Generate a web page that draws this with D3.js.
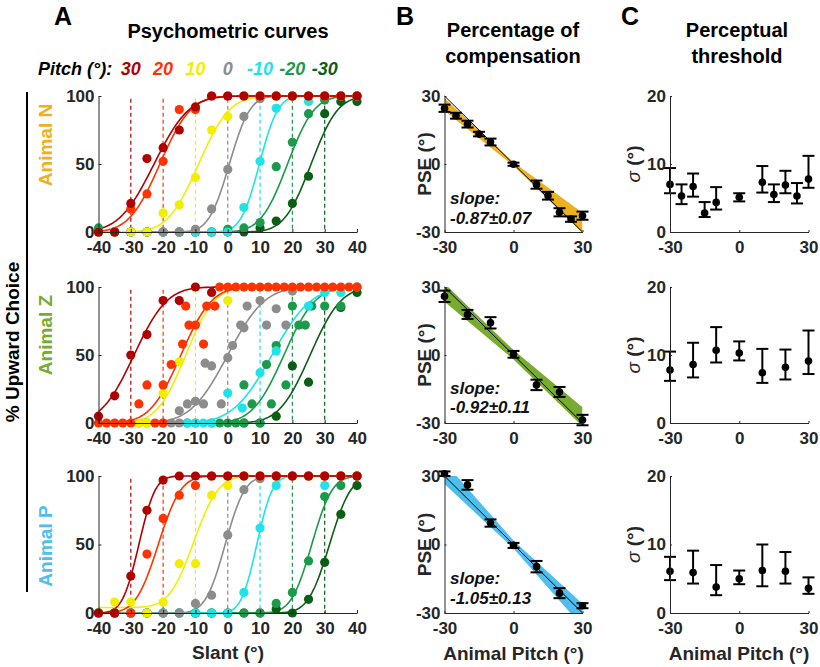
<!DOCTYPE html>
<html>
<head>
<meta charset="utf-8">
<script src="https://cdn.jsdelivr.net/npm/d3@7"></script>
<style>
body { margin: 0; background: #fff; }
svg text { font-family: "Liberation Sans", Arial, sans-serif; font-weight: bold; }
</style>
</head>
<body>
<svg id="fig" width="820" height="667"></svg>
<script>
// ---------- data ----------
var pitches = [30, 20, 10, 0, -10, -20, -30];
var pitchColors = ["#b00000", "#ff3300", "#f2ee00", "#8c8c8c", "#1ee3e8", "#1a9a4a", "#0b5e16"];
var animals = ["Animal N", "Animal Z", "Animal P"];
var animalColors = ["#edb120", "#77ac30", "#4dbeee"];
var slantTicks = [-40, -30, -20, -10, 0, 10, 20, 30, 40];
var pctTicks = [0, 50, 100];
var pitchTicks = [-30, 0, 30];
var sigmaTicks = [0, 10, 20];

// slants used for animals N and P (one % value per slant)
var slantGrid = [-40, -35, -30, -25, -20, -15, -10, -5, 0, 5, 10, 15, 20, 25, 30, 35, 40];

// animal N, % upward choice, rows follow pitches
var pctN = [
  [0, 0, 21, 54, 62, 75, 92, 100, 100, 100, 100, 100, 100, 100, 100, 100, 100],
  [0, 0, 17, 28, 52, 90, 90, 100, 100, 100, 100, 100, 100, 100, 100, 100, 100],
  [0, 0, 0, 0, 14, 20, 40, 75, 85, 100, 100, 100, 100, 100, 100, 100, 100],
  [0, 0, 0, 0, 0, 0, 2, 17, 46, 85, 98, 100, 100, 100, 100, 100, 100],
  [0, 0, 0, 0, 0, 0, 0, 0, 0, 18, 52, 91, 100, 96, 100, 100, 100],
  [3, 0, 0, 0, 0, 0, 0, 0, 2, 3, 7, 48, 66, 87, 97, 100, 100],
  [0, 0, 0, 0, 0, 0, 0, 0, 0, 0, 3, 8, 21, 41, 87, 96, 96]
];
// animal P
var pctP = [
  [0, 0, 27, 75, 97, 100, 100, 100, 100, 100, 100, 100, 100, 100, 100, 100, 100],
  [0, 0, 0, 43, 69, 86, 93, 100, 100, 100, 100, 100, 100, 100, 100, 100, 100],
  [0, 8, 8, 0, 8, 36, 36, 86, 93, 100, 100, 100, 100, 100, 100, 100, 100],
  [0, 0, 0, 0, 0, 0, 7, 13, 57, 90, 98, 100, 100, 100, 100, 100, 100],
  [0, 0, 0, 0, 0, 0, 0, 0, 0, 15, 62, 93, 100, 100, 93, 100, 100],
  [0, 0, 0, 0, 0, 0, 0, 0, 0, 0, 0, 7, 15, 38, 85, 93, 100],
  [0, 0, 0, 0, 0, 0, 0, 0, 0, 0, 0, 3, 0, 10, 37, 72, 93]
];
// animal Z was tested on irregular slants: [slant, %] pairs
var ptsZ30 = [[-40, 5], [-35, 20], [-30, 50], [-25, 65], [-20, 90], [-15, 90], [-10, 100], [-5, 96]];
var ptsZ20 = [[-40, 0], [-37.5, 0], [-35, 0], [-32.5, 0], [-30, 0], [-27.5, 14], [-25, 28], [-22.5, 0], [-20, 0],
  [-20, 28], [-17.5, 43], [-14, 58], [-13, 86], [-12, 72], [-10, 72], [-7.5, 58], [-6.5, 86], [-4, 86],
  [-2.5, 100], [0, 100], [2.5, 100], [5, 100], [7.5, 100], [10, 100], [12.5, 100], [15, 100], [17.5, 100],
  [20, 100], [22.5, 100], [25, 100], [27.5, 100], [30, 100], [32.5, 100], [35, 100], [37.5, 100], [40, 100]];
var ptsZ10 = [[-27.5, 0], [-25, 0], [-20, 22], [-15, 45], [0, 90]];
var ptsZ0 = [[-27.5, 0], [-25, 0], [-20, 0], [-17.5, 0], [-15, 0], [-15, 9], [-12.5, 14], [-10, 16], [-7.5, 14],
  [-7, 44], [-5, 42], [-2, 14], [0, 48], [1.5, 57], [4, 72], [5, 70], [6, 86], [10, 90], [12, 72], [15, 84],
  [18, 72], [20, 97]];
var ptsZm10 = [[-12.5, 0], [-10, 0], [-7.5, 0], [-5, 0], [0, 22], [4.5, 11], [10, 37], [15, 53], [25, 86],
  [30, 96], [35, 96], [40, 100]];
var ptsZm20 = [[-12.5, 0], [-10, 0], [-5, 0], [-2.5, 0], [0, 0], [2.5, 0], [5, 0], [5, 28], [7.5, 14], [10, 0],
  [12, 43], [13.5, 14], [15, 57], [18, 28], [20, 86], [22, 72], [24, 72], [26, 86], [30, 86], [35, 86], [40, 100]];
var ptsZm30 = [[5, 0], [10, 0], [15, 5], [20, 42], [25, 30], [35, 85], [40, 96]];

// cumulative gaussian fits (mean, sigma, floor) per pitch
var muN = [-22.8, -21, -9, 0.5, 9.8, 18.5, 25.8];
var sdN = [8.5, 7.5, 7.5, 5, 4.5, 6.5, 6.5];
var muZ = [-29, -14.5, -13, 0, 13.7, 17.4, 25.5];
var sdZ = [8, 7.5, 7, 9, 9.5, 7.6, 7.5];
var muP = [-27.5, -21.5, -10.5, -0.8, 9, 26, 31.5];
var sdP = [4, 5.5, 6, 4.8, 3.8, 5, 5.2];
var floorP = [0, 0, 4, 0, 0, 0, 0];

// panel B: PSE vs animal pitch
var pitchN = [-30, -25, -20, -15, -10, 0, 10, 15, 20, 25, 30];
var pseN = [24.6, 21.3, 17.6, 13.2, 9.7, -0.1, -9.1, -14, -21.3, -24.3, -22.8];
var pseErrN = [1.6, 1.3, 1.5, 1, 1.5, 0.7, 1.8, 1.7, 1.8, 1.2, 1.8];
var pitchZP = [-30, -20, -10, 0, 10, 20, 30];
var pseZ = [25.9, 17.9, 14.2, 0.3, -13.2, -16.3, -28.7];
var pseErrZ = [2.5, 2, 2.5, 1.5, 2.3, 2.2, 2.3];
var pseP = [31, 26.1, 9.4, -0.4, -9.7, -21.3, -26.8];
var pseErrP = [1, 2.1, 1.6, 1.1, 2.5, 2.2, 1.1];
var bandX = [-30, 0, 30];
var bandLoN = [23.5, -0.8, -30.5], bandHiN = [29, 0.8, -21.5];
var bandLoZ = [23.5, -2, -31.5], bandHiZ = [31.5, 2.2, -23];
var bandLoP = [26.5, -1.8, -36], bandHiP = [36, 1.8, -26];
var slopeText = ["-0.87\u00b10.07", "-0.92\u00b10.11", "-1.05\u00b10.13"];

// panel C: threshold sigma with asymmetric error bars
var sigN = [7.0, 5.3, 6.7, 2.8, 4.35, 5.1, 7.3, 5.5, 6.9, 5.3, 7.8];
var sigLoN = [5.7, 4.1, 5.2, 2.2, 3.3, 4.5, 5.8, 4.4, 5.7, 4.2, 6.5];
var sigHiN = [9.4, 7.0, 8.6, 4.4, 6.6, 5.7, 9.7, 7.0, 9.0, 7.2, 11.2];
var sigZ = [7.8, 8.6, 10.7, 10.3, 7.4, 8.2, 9.1];
var sigLoZ = [6.2, 6.7, 8.9, 9.2, 5.9, 6.4, 7.2];
var sigHiZ = [10.5, 11.8, 14.1, 12.0, 10.9, 10.8, 13.6];
var sigP = [6.1, 5.9, 3.8, 5.0, 6.2, 6.1, 3.6];
var sigLoP = [4.8, 4.3, 2.6, 4.2, 3.9, 4.3, 2.8];
var sigHiP = [8.2, 9.1, 7.0, 6.2, 10.0, 8.9, 5.2];

// ---------- layout ----------
var axisColor = "#262626";
var rowTop = [96, 287, 476], rowBot = [232, 423, 613];
var xA = d3.scaleLinear().domain([-40, 40]).range([98.5, 357]);
var xB = d3.scaleLinear().domain([-30, 30]).range([444.5, 582.5]);
var xC = d3.scaleLinear().domain([-30, 30]).range([670, 808.5]);

var svg = d3.select("#fig");

function erf(x) {
  var s = x < 0 ? -1 : 1;
  x = Math.abs(x);
  var t = 1 / (1 + 0.3275911 * x);
  var y = 1 - (((((1.061405429 * t - 1.453152027) * t) + 1.421413741) * t - 0.284496736) * t + 0.254829592) * t * Math.exp(-x * x);
  return s * y;
}
function cumGauss(x, mu, sd, fl) {
  var p = 0.5 * (1 + erf((x - mu) / (sd * Math.SQRT2)));
  return fl + (100 - fl) * p;
}

// matlab style: plain hyphen for negatives
function tickFmt(v) { return String(v); }

function drawAxes(x, y, xt, yt, tick) {
  var gx = svg.append("g")
    .attr("transform", "translate(0," + y.range()[0] + ")")
    .call(d3.axisBottom(x).tickValues(xt).tickFormat(tickFmt).tickSizeInner(-tick).tickSizeOuter(0).tickPadding(9));
  var gy = svg.append("g")
    .attr("transform", "translate(" + x.range()[0] + ",0)")
    .call(d3.axisLeft(y).tickValues(yt).tickFormat(tickFmt).tickSizeInner(-tick).tickSizeOuter(0).tickPadding(4));
  [gx, gy].forEach(function(g) {
    g.attr("font-family", null).attr("font-size", null);
    g.selectAll("path, line").attr("stroke", axisColor).attr("stroke-width", 1);
    g.selectAll("text").attr("fill", axisColor).style("font-size", "17px");
  });
}

function addText(x, y, str, size, opts) {
  opts = opts || {};
  var t = svg.append("text")
    .attr("x", x).attr("y", y)
    .attr("text-anchor", opts.anchor || "middle")
    .attr("fill", opts.color || "#111")
    .style("font-size", size + "px")
    .text(str);
  if (opts.italic) t.style("font-style", "italic");
  if (opts.rotate) t.attr("transform", "rotate(-90," + x + "," + y + ")").attr("dy", "0.35em");
  return t;
}

function drawErrorBars(g, pts, x, y) {
  var cap = 6;
  pts.forEach(function(p) {
    g.append("line").attr("x1", x(p.x)).attr("x2", x(p.x)).attr("y1", y(p.lo)).attr("y2", y(p.hi))
      .attr("stroke", "#000").attr("stroke-width", 2);
    [p.lo, p.hi].forEach(function(v) {
      g.append("line").attr("x1", x(p.x) - cap).attr("x2", x(p.x) + cap).attr("y1", y(v)).attr("y2", y(v))
        .attr("stroke", "#000").attr("stroke-width", 2);
    });
    g.append("circle").attr("cx", x(p.x)).attr("cy", y(p.y)).attr("r", 3.8).attr("fill", "#000");
  });
}

// ---------- panel A ----------
var pointSets = [
  pitches.map(function(p, i) { return slantGrid.map(function(s, j) { return [s, pctN[i][j]]; }); }),
  [ptsZ30, ptsZ20, ptsZ10, ptsZ0, ptsZm10, ptsZm20, ptsZm30],
  pitches.map(function(p, i) { return slantGrid.map(function(s, j) { return [s, pctP[i][j]]; }); })
];
var fits = [
  {mu: muN, sd: sdN, fl: [0, 0, 0, 0, 0, 0, 0]},
  {mu: muZ, sd: sdZ, fl: [0, 0, 0, 0, 0, 0, 0]},
  {mu: muP, sd: sdP, fl: floorP}
];
var curveX = d3.range(-40, 40.001, 0.5);

for (var r = 0; r < 3; r++) {
  var yA = d3.scaleLinear().domain([0, 100]).range([rowBot[r], rowTop[r]]);
  var g = svg.append("g");
  // dashed reference lines at slant = -pitch
  g.selectAll("line.ref").data(pitches).enter().append("line")
    .attr("x1", function(p) { return xA(-p); }).attr("x2", function(p) { return xA(-p); })
    .attr("y1", yA(98)).attr("y2", yA(0))
    .attr("stroke", function(p, i) { return pitchColors[i]; })
    .attr("stroke-width", 1.2).attr("stroke-dasharray", "4,3");
  var line = d3.line().x(function(d) { return xA(d[0]); }).y(function(d) { return yA(d[1]); });
  var order = d3.range(pitches.length).reverse();
  order.forEach(function(i) {
    var f = fits[r];
    g.append("path")
      .attr("d", line(curveX.map(function(s) { return [s, cumGauss(s, f.mu[i], f.sd[i], f.fl[i])]; })))
      .attr("fill", "none").attr("stroke", pitchColors[i]).attr("stroke-width", 1.6);
  });
  order.forEach(function(i) {
    g.selectAll(null).data(pointSets[r][i]).enter().append("circle")
      .attr("cx", function(d) { return xA(d[0]); })
      .attr("cy", function(d) { return yA(d[1]); })
      .attr("r", 4.6)
      .attr("fill", pitchColors[i]);
  });
  drawAxes(xA, yA, slantTicks, pctTicks, 3);
}

// ---------- panel B ----------
var pseSets = [
  {x: pitchN, y: pseN, e: pseErrN, lo: bandLoN, hi: bandHiN},
  {x: pitchZP, y: pseZ, e: pseErrZ, lo: bandLoZ, hi: bandHiZ},
  {x: pitchZP, y: pseP, e: pseErrP, lo: bandLoP, hi: bandHiP}
];
for (var r = 0; r < 3; r++) {
  var yB = d3.scaleLinear().domain([-30, 30]).range([rowBot[r], rowTop[r]]);
  var d = pseSets[r];
  svg.append("clipPath").attr("id", "clipB" + r).append("rect")
    .attr("x", xB.range()[0]).attr("y", rowTop[r])
    .attr("width", xB.range()[1] - xB.range()[0]).attr("height", rowBot[r] - rowTop[r]);
  var gb = svg.append("g");
  var area = d3.area()
    .x(function(v, i) { return xB(bandX[i]); })
    .y0(function(v, i) { return yB(d.lo[i]); })
    .y1(function(v, i) { return yB(d.hi[i]); });
  gb.append("path").attr("d", area(bandX))
    .attr("fill", animalColors[r]).attr("clip-path", "url(#clipB" + r + ")");
  gb.append("line")
    .attr("x1", xB(-30)).attr("y1", yB(30)).attr("x2", xB(30)).attr("y2", yB(-30))
    .attr("stroke", "#000").attr("stroke-width", 1);
  var pts = d.x.map(function(v, i) { return {x: v, y: d.y[i], lo: d.y[i] - d.e[i], hi: d.y[i] + d.e[i]}; });
  drawErrorBars(gb, pts, xB, yB);
  drawAxes(xB, yB, pitchTicks, pitchTicks, 2);
  addText(450, [204, 394, 584][r], "slope:", 17, {anchor: "start", italic: true});
  addText(450, [224, 413, 604][r], slopeText[r], 17, {anchor: "start", italic: true});
}

// ---------- panel C ----------
var sigSets = [
  {x: pitchN, y: sigN, lo: sigLoN, hi: sigHiN},
  {x: pitchZP, y: sigZ, lo: sigLoZ, hi: sigHiZ},
  {x: pitchZP, y: sigP, lo: sigLoP, hi: sigHiP}
];
for (var r = 0; r < 3; r++) {
  var yC = d3.scaleLinear().domain([0, 20]).range([rowBot[r], rowTop[r]]);
  var s = sigSets[r];
  var gc = svg.append("g");
  drawAxes(xC, yC, pitchTicks, sigmaTicks, 2);
  drawErrorBars(gc, s.x.map(function(v, i) { return {x: v, y: s.y[i], lo: s.lo[i], hi: s.hi[i]}; }), xC, yC);
}

// ---------- labels ----------
addText(63, 25, "A", 25, {color: "#000"});
addText(405, 25, "B", 25, {color: "#000"});
addText(630, 25, "C", 25, {color: "#000"});
addText(228, 38, "Psychometric curves", 20, {color: "#000"});
addText(513, 37, "Percentage of", 20, {color: "#000"});
addText(513, 63, "compensation", 20, {color: "#000"});
addText(737, 37, "Perceptual", 20, {color: "#000"});
addText(737, 63, "threshold", 20, {color: "#000"});

addText(38, 75, "Pitch (\u00b0):", 18, {anchor: "start", italic: true, color: "#000"});
pitches.forEach(function(p, i) {
  addText(xA(-p), 75, String(p), 18, {italic: true, color: pitchColors[i]});
});

addText(228, 659, "Slant (\u00b0)", 19, {color: axisColor});
addText(513.5, 660, "Animal Pitch (\u00b0)", 19, {color: axisColor});
addText(739, 660, "Animal Pitch (\u00b0)", 19, {color: axisColor});

for (var r = 0; r < 3; r++) {
  var mid = (rowTop[r] + rowBot[r]) / 2;
  addText(424, mid, "PSE (\u00b0)", 19, {rotate: true, color: axisColor});
  var st = addText(633, mid, "", 19, {rotate: true, color: axisColor});
  st.append("tspan").style("font-style", "italic").style("font-weight", "normal").text("\u03c3");
  st.append("tspan").text(" (\u00b0)");
}

addText(12, 342, "% Upward Choice", 19, {rotate: true, color: "#000"});
svg.append("line").attr("x1", 27).attr("x2", 27).attr("y1", 92).attr("y2", 592)
  .attr("stroke", "#000").attr("stroke-width", 2);
addText(45, 145, animals[0], 19, {rotate: true, color: animalColors[0]});
addText(45, 335, animals[1], 19, {rotate: true, color: animalColors[1]});
addText(45, 546, animals[2], 19, {rotate: true, color: animalColors[2]});
</script>
</body>
</html>
